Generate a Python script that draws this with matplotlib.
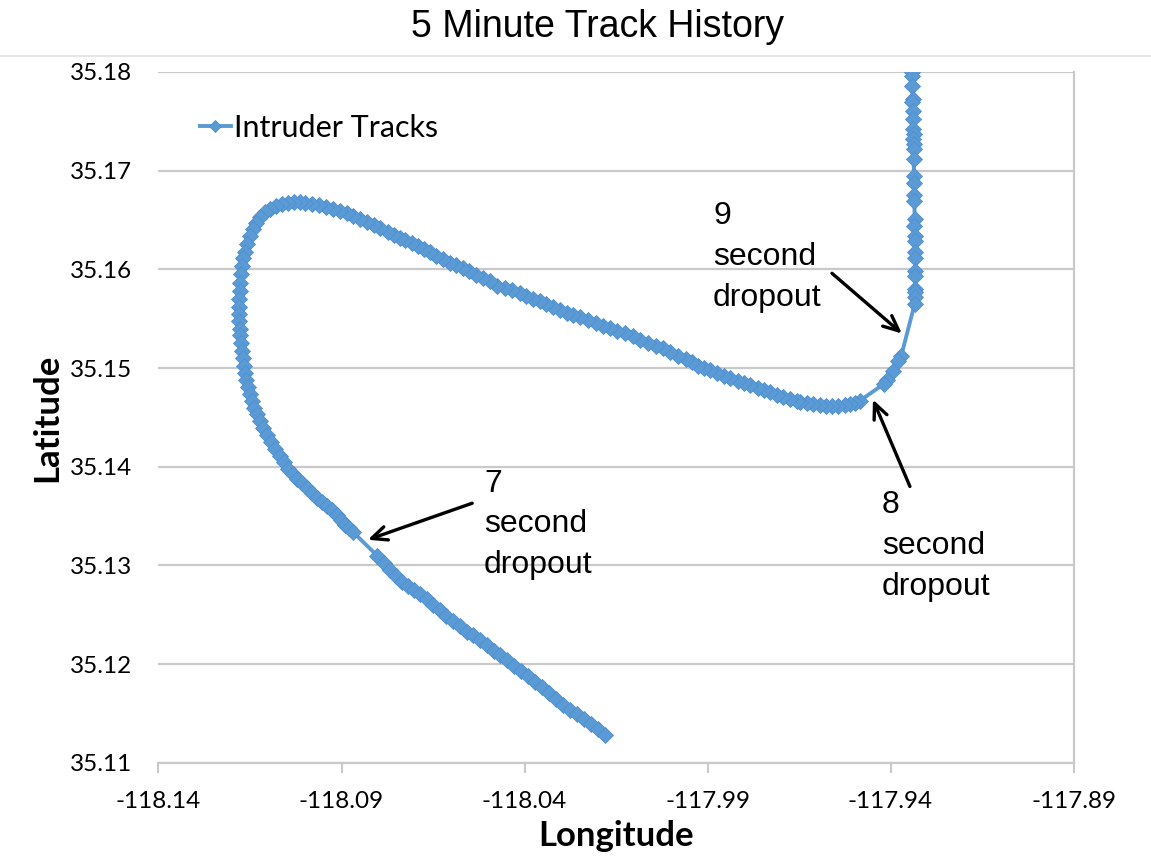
import matplotlib
matplotlib.use("Agg")
import matplotlib.pyplot as plt
from matplotlib.lines import Line2D

# ---------------- data ----------------
lon = [
    -117.9341, -117.9340, -117.9341, -117.9339, -117.9340, -117.9339, -117.9338, -117.9339,
    -117.9337, -117.9338, -117.9337, -117.9336, -117.9337, -117.9336, -117.9335, -117.9336,
    -117.9335, -117.9334, -117.9335, -117.9334, -117.9333, -117.9334, -117.9333, -117.9332,
    -117.9333, -117.9333, -117.9334, -117.9333, -117.9334,
    -117.9371, -117.9380, -117.9393, -117.9410, -117.9418,
    -117.9483, -117.9497, -117.9511, -117.9524, -117.9543, -117.9560, -117.9576, -117.9593,
    -117.9612, -117.9628, -117.9647, -117.9656, -117.9675, -117.9694, -117.9710, -117.9729,
    -117.9746, -117.9762, -117.9784, -117.9800, -117.9817, -117.9839, -117.9855, -117.9874,
    -117.9893, -117.9910, -117.9926, -117.9942, -117.9959, -117.9981, -118.0002, -118.0022,
    -118.0041, -118.0063, -118.0084, -118.0104, -118.0125, -118.0147, -118.0166, -118.0186,
    -118.0205, -118.0227, -118.0248, -118.0268, -118.0284, -118.0303, -118.0322, -118.0341,
    -118.0358, -118.0377, -118.0396, -118.0412, -118.0434, -118.0453, -118.0475, -118.0494,
    -118.0513, -118.0533, -118.0552, -118.0568, -118.0587, -118.0604, -118.0623, -118.0642,
    -118.0658, -118.0675, -118.0691, -118.0707, -118.0727, -118.0740, -118.0757, -118.0773,
    -118.0795, -118.0811, -118.0830, -118.0850, -118.0869, -118.0885, -118.0904, -118.0923,
    -118.0942, -118.0962, -118.0981, -118.1000, -118.1013, -118.1030, -118.1046, -118.1063,
    -118.1079, -118.1095, -118.1109, -118.1123, -118.1134, -118.1142, -118.1150, -118.1158,
    -118.1164, -118.1169, -118.1172, -118.1175, -118.1177, -118.1177, -118.1180, -118.1180,
    -118.1180, -118.1180, -118.1177, -118.1177, -118.1175, -118.1172, -118.1169, -118.1166,
    -118.1164, -118.1161, -118.1155, -118.1150, -118.1145, -118.1139, -118.1131, -118.1123,
    -118.1114, -118.1104, -118.1093, -118.1082, -118.1068, -118.1057, -118.1046, -118.1033,
    -118.1022, -118.1008, -118.0994, -118.0981, -118.0967, -118.0953, -118.0940, -118.0926,
    -118.0912, -118.0901, -118.0890, -118.0880, -118.0869,
    -118.0803, -118.0784, -118.0768, -118.0751, -118.0735, -118.0718, -118.0702, -118.0686,
    -118.0666, -118.0650, -118.0631, -118.0615, -118.0595, -118.0576, -118.0557, -118.0541,
    -118.0522, -118.0503, -118.0483, -118.0467, -118.0448, -118.0429, -118.0410, -118.0390,
    -118.0371, -118.0352, -118.0333, -118.0314, -118.0295, -118.0276, -118.0257, -118.0237,
    -118.0218, -118.0199, -118.0180,
]
lat = [
    35.1800, 35.1796, 35.1786, 35.1773, 35.1770, 35.1760, 35.1752, 35.1742,
    35.1737, 35.1732, 35.1727, 35.1722, 35.1712, 35.1695, 35.1687, 35.1675,
    35.1669, 35.1651, 35.1644, 35.1634, 35.1629, 35.1618, 35.1611, 35.1598,
    35.1593, 35.1580, 35.1577, 35.1572, 35.1565,
    35.1512, 35.1507, 35.1497, 35.1488, 35.1484,
    35.1467, 35.1465, 35.1464, 35.1463, 35.1462, 35.1462, 35.1462, 35.1463,
    35.1464, 35.1465, 35.1466, 35.1467, 35.1469, 35.1471, 35.1473, 35.1476,
    35.1478, 35.1480, 35.1483, 35.1485, 35.1487, 35.1490, 35.1492, 35.1495,
    35.1498, 35.1500, 35.1502, 35.1506, 35.1509, 35.1512, 35.1516, 35.1520,
    35.1522, 35.1525, 35.1528, 35.1532, 35.1535, 35.1538, 35.1541, 35.1543,
    35.1546, 35.1549, 35.1552, 35.1554, 35.1556, 35.1559, 35.1562, 35.1565,
    35.1568, 35.1570, 35.1573, 35.1576, 35.1579, 35.1581, 35.1583, 35.1588,
    35.1591, 35.1594, 35.1598, 35.1601, 35.1604, 35.1606, 35.1610, 35.1614,
    35.1618, 35.1621, 35.1624, 35.1627, 35.1630, 35.1632, 35.1635, 35.1638,
    35.1642, 35.1645, 35.1648, 35.1651, 35.1654, 35.1657, 35.1659, 35.1661,
    35.1663, 35.1665, 35.1666, 35.1667, 35.1668, 35.1668, 35.1667, 35.1666,
    35.1664, 35.1661, 35.1658, 35.1653, 35.1647, 35.1641, 35.1634, 35.1626,
    35.1618, 35.1611, 35.1603, 35.1595, 35.1586, 35.1578, 35.1570, 35.1562,
    35.1555, 35.1548, 35.1540, 35.1533, 35.1525, 35.1517, 35.1510, 35.1502,
    35.1495, 35.1488, 35.1481, 35.1474, 35.1467, 35.1460, 35.1453, 35.1446,
    35.1439, 35.1432, 35.1425, 35.1418, 35.1411, 35.1405, 35.1398, 35.1393,
    35.1388, 35.1383, 35.1378, 35.1373, 35.1368, 35.1364, 35.1360, 35.1356,
    35.1351, 35.1346, 35.1341, 35.1338, 35.1334,
    35.1310, 35.1302, 35.1295, 35.1289, 35.1283, 35.1279, 35.1275, 35.1271,
    35.1266, 35.1260, 35.1255, 35.1249, 35.1244, 35.1239, 35.1233, 35.1229,
    35.1224, 35.1219, 35.1213, 35.1209, 35.1204, 35.1198, 35.1193, 35.1188,
    35.1182, 35.1177, 35.1171, 35.1165, 35.1159, 35.1153, 35.1149, 35.1144,
    35.1139, 35.1134, 35.1128,
]

x_ticks = [-118.14, -118.09, -118.04, -117.99, -117.94, -117.89]
x_tick_labels = ["-118.14", "-118.09", "-118.04", "-117.99", "-117.94", "-117.89"]
y_ticks = [35.11, 35.12, 35.13, 35.14, 35.15, 35.16, 35.17, 35.18]
y_tick_labels = ["35.11", "35.12", "35.13", "35.14", "35.15", "35.16", "35.17", "35.18"]

title = "5 Minute Track History"
series_name = "Intruder Tracks"
x_label = "Longitude"
y_label = "Latitude"

# annotations: text, text anchor (lon, lat top-left), arrow tail, arrow tip
notes = ["9\nsecond\ndropout", "8\nsecond\ndropout", "7\nsecond\ndropout"]
note_pos = [(-117.9885, 35.1669), (-117.9423, 35.1376), (-118.0511, 35.1398)]
arrow_tail = [(-117.9560, 35.1596), (-117.9347, 35.1380), (-118.0543, 35.1363)]
arrow_tip = [(-117.9369, 35.1535), (-117.9448, 35.1468), (-118.0828, 35.1326)]

# ---------------- figure ----------------
BLUE = "#5b9bd5"
GRID = "#c9c9c9"

fig = plt.figure(figsize=(11.51, 8.61), dpi=100)
ax = fig.add_axes([0.1377, 0.1141, 0.7950, 0.8023])

ax.plot(lon, lat, color=BLUE, lw=2.8, marker="D", markersize=8,
        markerfacecolor=BLUE, markeredgecolor="#4f8dcf", markeredgewidth=0.6,
        label=series_name, zorder=3)

ax.set_xlim(x_ticks[0], x_ticks[-1])
ax.set_ylim(y_ticks[0], y_ticks[-1])
ax.set_xticks(x_ticks)
ax.set_xticklabels(x_tick_labels)
ax.set_yticks(y_ticks)
ax.set_yticklabels(y_tick_labels)

for lbl in ax.get_xticklabels() + ax.get_yticklabels():
    lbl.set_fontfamily("Lato")
    lbl.set_fontsize(17.5)
    lbl.set_color("black")

ax.yaxis.grid(True, color=GRID, lw=1.6)
ax.set_axisbelow(True)
ax.tick_params(axis="y", length=0, pad=19)
ax.tick_params(axis="x", length=7, width=1.5, color=GRID, direction="out", pad=13)

for s in ["left", "top"]:
    ax.spines[s].set_visible(False)
for s in ["right", "bottom"]:
    ax.spines[s].set_color(GRID)
    ax.spines[s].set_linewidth(1.6)

ax.set_xlabel(x_label, fontfamily="Lato", fontweight="bold", fontsize=25, labelpad=6)
ax.set_ylabel(y_label, fontfamily="Lato", fontweight="bold", fontsize=25, labelpad=5)

leg = ax.legend(loc="center left", bbox_to_anchor=(0.0454, 0.919), frameon=False,
                borderpad=0, borderaxespad=0, handlelength=1.0, handletextpad=0.1,
                prop={"family": "Lato", "size": 22})
for h in leg.legend_handles:
    h.set_markersize(6)

for txt, pos, tail, tip in zip(notes, note_pos, arrow_tail, arrow_tip):
    ax.text(pos[0], pos[1], txt, fontfamily="Liberation Sans", fontsize=23,
            ha="left", va="top", linespacing=1.47, zorder=5)
    ax.annotate("", xy=tip, xytext=tail, xycoords="data", textcoords="data",
                arrowprops=dict(arrowstyle="->,head_length=1.1,head_width=0.5",
                                lw=2.4, color="black", shrinkA=0, shrinkB=0),
                zorder=5)

fig.text(0.519, 0.957, title, ha="center", va="baseline",
         fontfamily="Liberation Sans", fontsize=27)
fig.add_artist(Line2D([0, 1], [0.935, 0.935], transform=fig.transFigure,
                      color="#e2e2e2", lw=1.2))

fig.savefig("out.png", dpi=100)
